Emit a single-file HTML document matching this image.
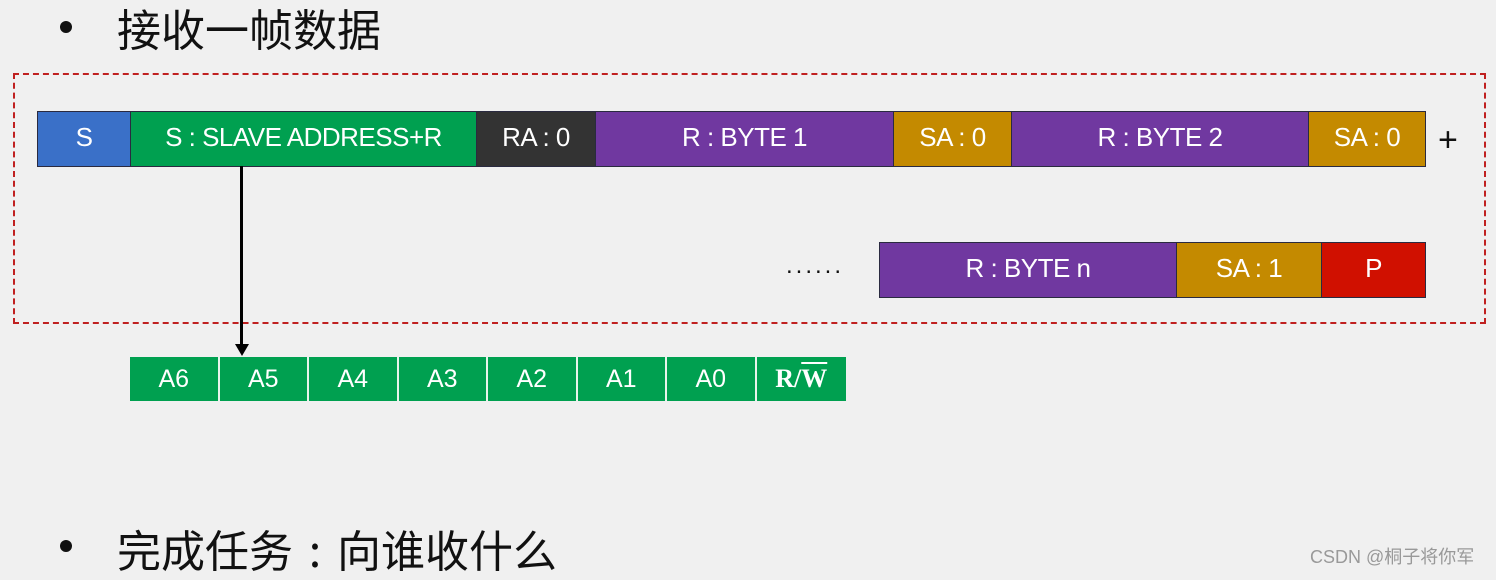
<!DOCTYPE html>
<html><head><meta charset="utf-8"><style>
body{margin:0;width:1496px;height:574px;background:#f0f0f0;position:relative;overflow:hidden;font-family:"Liberation Sans","Noto Sans CJK SC",sans-serif}
.a{position:absolute}
.c{position:absolute;display:flex;align-items:center;justify-content:center;color:#fff;font-size:26px;box-sizing:border-box;border:1px solid #2a2a40;letter-spacing:-0.5px;padding-bottom:3px;white-space:pre}
.b{position:absolute;top:357px;height:44px;width:89.5px;background:#00a050;color:#fff;font-size:25px;display:flex;align-items:center;justify-content:center;border-right:2px solid #e8f4ec;box-sizing:border-box}
.t{position:absolute;font-size:44px;color:#111;font-family:"Noto Sans CJK SC","WenQuanYi Zen Hei",sans-serif;line-height:1;white-space:nowrap}
.dot{position:absolute;width:12px;height:12px;border-radius:50%;background:#111}
</style></head><body>
<div class="dot" style="left:60px;top:21px"></div>
<div class="t" style="left:117px;top:5px">接收一帧数据</div>
<div class="dot" style="left:60px;top:540px"></div>
<div class="t" style="left:117px;top:526px">完成任务<span style="display:inline-block;width:44px;text-align:center">:</span>向谁收什么</div>

<div class="a" style="left:13px;top:73px;width:1469px;height:247px;border:2px dashed #c02020"></div>

<div class="c" style="left:37px;top:111px;width:94px;height:56px;background:#3a70c8">S</div>
<div class="c" style="left:130px;top:111px;width:347px;height:56px;background:#00a050">S : SLAVE ADDRESS+R</div>
<div class="c" style="left:476px;top:111px;width:120px;height:56px;background:#333">RA : 0</div>
<div class="c" style="left:595px;top:111px;width:299px;height:56px;background:#7038a0">R : BYTE 1</div>
<div class="c" style="left:893px;top:111px;width:119px;height:56px;background:#c48a00">SA : 0</div>
<div class="c" style="left:1011px;top:111px;width:298px;height:56px;background:#7038a0">R : BYTE 2</div>
<div class="c" style="left:1308px;top:111px;width:118px;height:56px;background:#c48a00">SA : 0</div>
<div class="a" style="left:1438px;top:121px;font-size:34px;color:#111">+</div>

<div class="a" style="left:786px;top:252px;font-size:24px;color:#111;letter-spacing:3px">......</div>
<div class="c" style="left:879px;top:242px;width:298px;height:56px;background:#7038a0">R : BYTE n</div>
<div class="c" style="left:1176px;top:242px;width:146px;height:56px;background:#c48a00">SA : 1</div>
<div class="c" style="left:1321px;top:242px;width:105px;height:56px;background:#d01000">P</div>

<div class="a" style="left:240px;top:166px;width:3px;height:180px;background:#000"></div>
<div class="a" style="left:235px;top:344px;width:0;height:0;border-left:7px solid transparent;border-right:7px solid transparent;border-top:12px solid #000"></div>

<div class="b" style="left:130px">A6</div>
<div class="b" style="left:219.5px">A5</div>
<div class="b" style="left:309px">A4</div>
<div class="b" style="left:398.5px">A3</div>
<div class="b" style="left:488px">A2</div>
<div class="b" style="left:577.5px">A1</div>
<div class="b" style="left:667px">A0</div>
<div class="b" style="left:756.5px;border-right:none;font-family:'Liberation Serif',serif;font-size:26px;font-weight:bold">R/<span style="text-decoration:overline">W</span></div>

<div class="a" style="left:1310px;top:543px;font-size:18px;color:#999;white-space:nowrap">CSDN @桐子将你军</div>
</body></html>
